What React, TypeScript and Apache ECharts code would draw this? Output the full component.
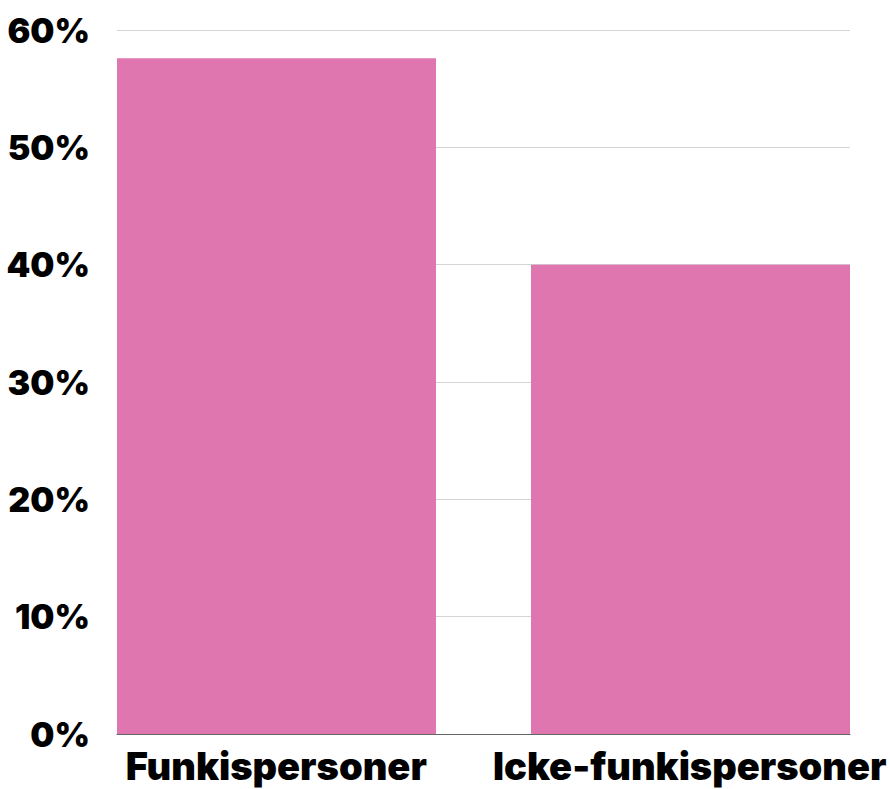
import React, { useEffect, useRef } from "react";
import * as echarts from "echarts";

const categories = ["Funkispersoner", "Icke-funkispersoner"];
const funkisValues = [57.6, "-"];
const ickeValues = ["-", 40];
const yTicks = { min: 0, max: 60, interval: 10 };

export default function App() {
  const ref = useRef<HTMLDivElement>(null);
  useEffect(() => {
    if (!ref.current) return;
    const chart = echarts.init(ref.current, null, { renderer: "svg" });
    const font = "Inter";
    chart.setOption({
      animation: false,
      grid: { left: 117, right: 40, top: 30, bottom: 55, containLabel: false },
      xAxis: {
        type: "category",
        data: categories,
        axisTick: { show: false },
        axisLine: { show: true, lineStyle: { color: "#666666", width: 1 } },
        axisLabel: {
          margin: 13,
          interval: 0,
          formatter: (v: string) => (v === categories[0] ? "{a|" + v + "}" : "{b|" + v + "}"),
          rich: {
            a: { fontFamily: font, fontWeight: 900, fontSize: 38, color: "#000", padding: [0, 48, 0, 0] },
            b: { fontFamily: font, fontWeight: 900, fontSize: 38, color: "#000", padding: [0, 0, 0, 46] },
          },
        },
      },
      yAxis: {
        type: "value",
        min: yTicks.min,
        max: yTicks.max,
        interval: yTicks.interval,
        axisLine: { show: false },
        axisTick: { show: false },
        splitLine: { show: true, lineStyle: { color: "#d4d4d4", width: 1 } },
        axisLabel: {
          formatter: "{value}%",
          margin: 27,
          fontFamily: font,
          fontWeight: 900,
          fontSize: 34,
          color: "#000",
        },
      },
      series: [
        {
          type: "bar",
          data: funkisValues,
          barWidth: 319,
          barGap: "-85.1%",
          itemStyle: { color: "#DF76AF" },
        },
        {
          type: "bar",
          data: ickeValues,
          barWidth: 319,
          barGap: "-85.1%",
          itemStyle: { color: "#DF76AF" },
        },
      ],
    });
    return () => chart.dispose();
  }, []);
  return <div ref={ref} style={{ width: 890, height: 789, position: "absolute", left: 0, top: 0 }} />;
}
